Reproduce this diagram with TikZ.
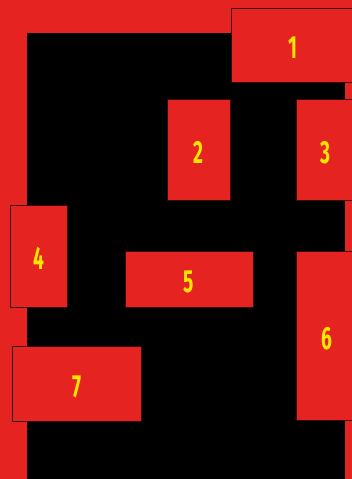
\documentclass[tikz,border=0pt]{standalone}
\usepackage{fontspec}
\setmainfont{Fira Sans}
\usepackage{tikz}
\definecolor{boxred}{HTML}{E52421}
\definecolor{numyellow}{HTML}{FFE600}
\definecolor{edgedark}{HTML}{3A0A08}
\newcommand{\roomnum}[1]{\raisebox{-13.5pt}[0pt][0pt]{\scalebox{0.6}[1]{#1}}}

\begin{document}
\begin{tikzpicture}[
    x=1pt, y=-1pt,
    room/.style={draw=edgedark, fill=boxred, line width=0.9pt, inner sep=0pt, text=numyellow, font=\fontsize{32}{32}\selectfont\bfseries},
    strip/.style={fill=boxred},
]
    \useasboundingbox (0,0) rectangle (352,479);
    \fill [black] (0,0) rectangle (352,479);

    % frame strips
    \fill [strip] (0,0) rectangle (27,479);
    \fill [strip] (0,0) rectangle (352,33);
    \fill [strip] (345,0) rectangle (352,479);

    % rooms
    \node [room, minimum width=123pt, minimum height=74pt] (r1) at (292.5,45) {\roomnum{1}};
    \node [room, minimum width=63pt, minimum height=101pt] (r2) at (198.5,149.5) {\roomnum{2}};
    \node [room, minimum width=58pt, minimum height=101pt] (r3) at (325,149.5) {\roomnum{3}};
    \node [room, minimum width=57pt, minimum height=102pt] (r4) at (38.5,256) {\roomnum{4}};
    \node [room, minimum width=128pt, minimum height=56pt] (r5) at (189,279) {\roomnum{5}};
    \node [room, minimum width=62pt, minimum height=169pt] (r6) at (327,335.5) {\roomnum{6}};
    \node [room, minimum width=129pt, minimum height=75pt] (r7) at (76.5,383.5) {\roomnum{7}};
\end{tikzpicture}
\end{document}
